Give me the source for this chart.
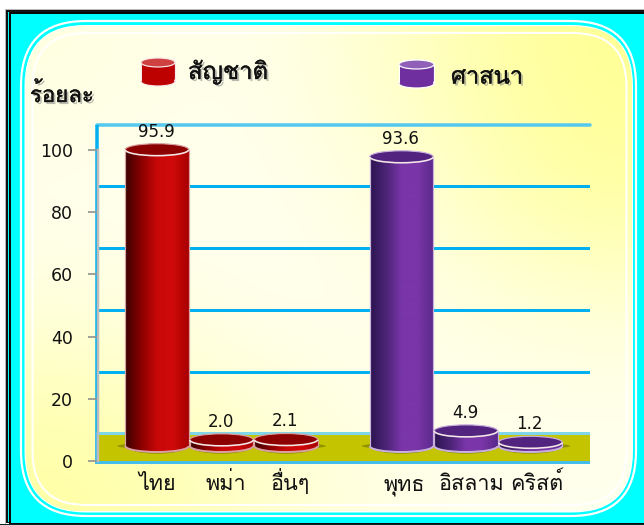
import numpy as np, pandas as pd, seaborn as sns
import matplotlib
matplotlib.use("Agg")
import matplotlib.pyplot as plt
from matplotlib.patches import Ellipse, Arc, FancyBboxPatch, Rectangle
from matplotlib.colors import LinearSegmentedColormap
import matplotlib.patheffects as pe

# ---- data ----
categories = ["ไทย", "พม่า", "อื่นๆ", "พุทธ", "อิสลาม", "คริสต์"]
nationality = [95.9, 2.0, 2.1]
religion = [93.6, 4.9, 1.2]
groups = ["สัญชาติ"] * 3 + ["ศาสนา"] * 3
y_ticks = [0, 20, 40, 60, 80, 100]
wall_lines = [20, 40, 60, 80]
y_title = "ร้อยละ"

W, H = 644, 525
THAI = ["Loma", "Noto Sans Thai Looped", "DejaVu Sans"]
sns.set_theme(style="white")
plt.rcParams["font.family"] = THAI
plt.rcParams["text.color"] = "#111111"
plt.rcParams["axes.unicode_minus"] = False

fig = plt.figure(figsize=(W / 100, H / 100), dpi=100)
fig.patch.set_facecolor("white")
PX = 0.72  # points per pixel

def place(ax, x0, x1, ytop, ybot):
    ax.set_position([x0 / W, 1 - ybot / H, (x1 - x0) / W, (ybot - ytop) / H])

# ---- page background, in pixels ----
bg = fig.add_axes([0, 0, 1, 1], zorder=0)
bg.set_xlim(0, W); bg.set_ylim(H, 0); bg.axis("off"); bg.set_autoscale_on(False)
bg.add_patch(Rectangle((5, 8.5), 700, 600, fc="none", ec="#b8b8b8", lw=1 * PX))
bg.add_patch(Rectangle((6, 9.5), 700, 513, fc="#111111", ec="none"))
bg.add_patch(Rectangle((8, 11.5), 700, 510, fc="#00ffff", ec="none"))
bg.add_patch(Rectangle((10, 13), 700, 511, fc="#00ffff", ec="#0a0a0a", lw=2 * PX))
bg.add_patch(Rectangle((0, 523.5), W, 2, fc="#0a2a2a", ec="none"))

def rbox(x0, y0, x1, y1, r, **kw):
    p = FancyBboxPatch((x0, y0), x1 - x0, y1 - y0,
                       boxstyle=f"round,pad=0,rounding_size={r}", **kw)
    bg.add_patch(p)
    return p

rbox(21, 21, 636, 516, 65, fc="#00ffff", ec="white", lw=2.2 * PX)
panel = rbox(25.5, 26, 632, 511.5, 60, fc="white", ec="white", lw=2 * PX)
grad = np.array([
    [[255, 255, 225], [255, 255, 240], [255, 255, 200], [255, 255, 150]],
    [[255, 255, 240], [255, 255, 240], [255, 255, 225], [255, 255, 165]],
    [[255, 255, 215], [255, 255, 238], [255, 255, 238], [255, 255, 225]],
    [[255, 255, 165], [255, 255, 200], [255, 255, 235], [255, 255, 238]],
], dtype=float) / 255
im = bg.imshow(grad, extent=(25, 632, 511, 26), interpolation="bicubic", aspect="auto", zorder=2)
im.set_clip_path(panel)
rbox(32.5, 33, 626.5, 505, 54, fc="none", ec="white", lw=2 * PX, zorder=3)

# ---- back wall ----
ax_wall = fig.add_axes([0, 0, 1, 1], zorder=1)
place(ax_wall, 97, 590, 124.5, 434)
ax_wall.set_xlim(0, 1); ax_wall.set_ylim(0, 100)
ax_wall.patch.set_visible(False)
for s in ax_wall.spines.values():
    s.set_visible(False)
ax_wall.set_xticks([]); ax_wall.set_yticks([])
for v in wall_lines:
    ax_wall.axhline(v, color="#00b0f0", lw=3 * PX, zorder=1)
ax_wall.axhline(100, color="#55c8f0", lw=3.5 * PX, clip_on=False, zorder=1)
ax_wall.plot([0, 0], [-3, 100], color="#00b0f0", lw=3.5 * PX, clip_on=False, zorder=1,
             solid_capstyle="butt")
ax_wall.set_autoscale_on(False)

# ---- floor ----
ax_floor = fig.add_axes([0, 0, 1, 1], zorder=2)
ax_floor.set_xlim(0, W); ax_floor.set_ylim(H, 0); ax_floor.axis("off")
ax_floor.add_patch(Rectangle((96, 434), 494, 27, fc="#c4c400", ec="none"))
ax_floor.add_patch(Rectangle((96, 432), 494, 2.5, fc="#7fd6e8", ec="none"))
ax_floor.add_patch(Rectangle((95, 461), 495, 3, fc="#45bdea", ec="none"))
ax_floor.add_patch(Rectangle((95, 432), 3, 30, fc="#45bdea", ec="none"))

# ---- bars ----
positions = [0, 1, 2, 3.79, 4.79, 5.79]
label_positions = [0.0, 1.07, 2.06, 3.83, 4.88, 5.89]
values = nationality + religion
df = pd.DataFrame({"pos": positions, "value": values, "group": groups, "cat": categories})
RED = {"side": ["#3c0000", "#8a0000", "#c80808", "#d00a0a", "#a80000"], "top": "#8c0000", "rim": "#d9a0a0"}
PUR = {"side": ["#2c1450", "#4c2478", "#7a36a8", "#7a36a8", "#5a2a8c"], "top": "#52247f", "rim": "#c8b0dc"}
palette = {groups[0]: "#b00000", groups[3]: "#6a2f9a"}

ax = fig.add_axes([0, 0, 1, 1], zorder=3)
PPU = 64.5
YS = 3.09
LOW = -8
place(ax, 97, 590, 446 - 100 * YS, 446 - LOW * YS)
sns.barplot(data=df, x="pos", y="value", hue="group", palette=palette, native_scale=True,
            dodge=False, width=1.0, legend=False, ax=ax)
ax.set_autoscale_on(False)
ax.set_xlim((97 - 157) / PPU, (590 - 157) / PPU)
ax.set_ylim(LOW, 100)
ax.patch.set_visible(False)
ax.axis("off")
EH = 12 / YS

def cylinder(a, x, w, base, top, style, eh):
    cmap = LinearSegmentedColormap.from_list("c", style["side"])
    g = np.linspace(0, 1, 64)[None, :]
    a.add_patch(Ellipse((x, base), w * 1.25, eh * 0.5, fc="#6a6a00", ec="none", alpha=.55,
                        zorder=1, clip_on=False))
    a.add_patch(Ellipse((x, base - eh * .12), w * 0.9, eh * 1.05, fc="#7a7a00", ec="none", alpha=.7,
                        zorder=1, clip_on=False))
    body = Rectangle((x - w / 2, base), w, top - base, fc="none", ec="none", zorder=2)
    a.add_patch(body)
    i1 = a.imshow(g, cmap=cmap, extent=(x - w / 2, x + w / 2, base, top), aspect="auto", zorder=2)
    i1.set_clip_path(body)
    be = Ellipse((x, base), w, eh, fc="none", ec="none", zorder=2)
    a.add_patch(be)
    i2 = a.imshow(g, cmap=cmap, extent=(x - w / 2, x + w / 2, base - eh / 2, base + eh / 2),
                  aspect="auto", zorder=2)
    i2.set_clip_path(be)
    a.add_patch(Arc((x, base), w, eh, theta1=180, theta2=360, ec=style["rim"], lw=2 * PX, zorder=3))
    a.plot([x - w / 2] * 2, [base, top], color=style["rim"], lw=1.2 * PX, zorder=3)
    a.plot([x + w / 2] * 2, [base, top], color=style["rim"], lw=1.2 * PX, zorder=3)
    a.add_patch(Ellipse((x, top), w, eh, fc=style["top"], ec="none", zorder=4, clip_on=False))
    a.add_patch(Arc((x, top), w, eh, theta1=180, theta2=360, ec="#f4e8e8", lw=1.6 * PX, zorder=5, clip_on=False))
    a.add_patch(Arc((x, top), w, eh, theta1=0, theta2=180, ec=style["rim"], lw=1.2 * PX, zorder=5, clip_on=False))

for bar, grp, v in zip(ax.patches, groups, values):
    x = bar.get_x() + bar.get_width() / 2
    bar.set_visible(False)
    cylinder(ax, x, bar.get_width() * 0.985, 0, v, RED if grp == groups[0] else PUR, EH)
    ax.annotate(f"{v:.1f}", (x, v), xytext=(-0.5, 13), textcoords="offset points", ha="center", va="center",
                fontsize=12, family="DejaVu Sans", color="#111111", zorder=8, annotation_clip=False)
ax.set_xlim((97 - 157) / PPU, (590 - 157) / PPU)
ax.set_ylim(LOW, 100)

# ---- front axis with ticks and labels ----
ax_f = fig.add_axes([0, 0, 1, 1], zorder=4)
place(ax_f, 98, 590, 150, 461)
ax_f.patch.set_visible(False)
ax_f.set_xlim((98 - 157) / PPU, (590 - 157) / PPU)
ax_f.set_ylim(0, 100)
for k in ("top", "right", "bottom"):
    ax_f.spines[k].set_visible(False)
ax_f.spines["left"].set_color("#bcbcbc")
ax_f.spines["left"].set_linewidth(2.5 * PX)
ax_f.set_yticks(y_ticks)
ax_f.tick_params(axis="y", length=7, width=1.2, color="#909090", labelsize=12.5, pad=11, left=True)
for t in ax_f.get_yticklabels():
    t.set_family("DejaVu Sans"); t.set_color("#111111")
ax_f.set_xticks(label_positions)
ax_f.set_xticklabels(categories, fontsize=15.5, color="#111111", va="baseline")
ax_f.tick_params(axis="x", length=0, pad=21)

# ---- legend and titles, in pixels ----
top = fig.add_axes([0, 0, 1, 1], zorder=5)
top.set_xlim(0, W); top.set_ylim(H, 0); top.axis("off"); top.set_autoscale_on(False)

def key(x0, x1, ytop, ybot, side, tp, edge):
    c = (x0 + x1) / 2; w = x1 - x0; eh = 9
    top.add_patch(Rectangle((x0, ytop + eh / 2), w, ybot - ytop - eh, fc=side, ec=edge, lw=1.2 * PX))
    top.add_patch(Ellipse((c, ybot - eh / 2), w, eh, fc=side, ec=edge, lw=1.2 * PX))
    top.add_patch(Rectangle((x0 + .7, ytop + eh / 2), w - 1.4, ybot - ytop - eh, fc=side, ec="none"))
    top.add_patch(Ellipse((c, ytop + eh / 2), w, eh, fc=tp, ec=edge, lw=1.2 * PX))

key(141, 175, 58, 86, "#bd0000", "#cf4040", "#f6e8e8")
key(399, 434, 60, 88, "#6f2f9e", "#9060b8", "#ffffff")
effects = [pe.SimplePatchShadow(offset=(1.5, -1.5), shadow_rgbFace="#808080", alpha=.55),
           pe.Stroke(linewidth=0.3, foreground="#111111"), pe.Normal()]
for tx, ty, s, fs in [(188, 72, groups[0], 17.2), (451, 77, groups[3], 17), (30, 95, y_title, 16)]:
    t = top.text(tx, ty, s, fontsize=fs, va="center", ha="left", color="#111111")
    t.set_path_effects(effects)

fig.savefig("out.png", dpi=100)
